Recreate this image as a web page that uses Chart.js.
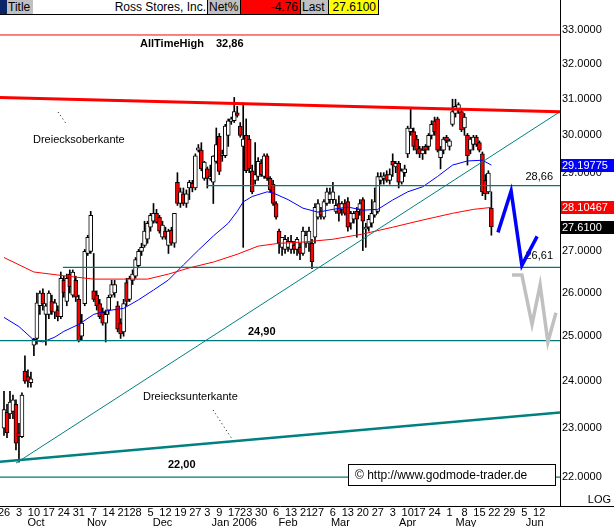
<!DOCTYPE html>
<html>
<head>
<meta charset="utf-8">
<script src="https://cdn.jsdelivr.net/npm/chart.js@4.4.1/dist/chart.umd.min.js"></script>
<style>
  html, body { margin: 0; padding: 0; background: #fff; }
  #wrap { position: relative; width: 614px; height: 527px; overflow: hidden; font-family: "Liberation Sans", Arial, sans-serif; }
  #c { position: absolute; left: 0; top: 0; }
  .hb { position: absolute; top: 0; height: 14px; line-height: 14px; font-size: 12px; color: #000; white-space: nowrap; box-sizing: border-box; }
</style>
</head>
<body>
<div id="wrap">
  <canvas id="c" width="614" height="527"></canvas>
  <div class="hb" style="left:0;width:7px;background:#0a246a"></div>
  <div class="hb" style="left:7px;width:26px;background:#c0c0c0;padding-left:1px">Title</div>
  <div class="hb" style="left:33px;width:174px;background:#fff;text-align:right;padding-right:1px">Ross Stores, Inc.</div>
  <div class="hb" style="left:207px;width:33px;background:#c0c0c0;border-left:1px solid #000;padding-left:1px">Net%</div>
  <div class="hb" style="left:240px;width:60px;background:#ff0000;border-left:1px solid #000;text-align:right;padding-right:2px">-4.76</div>
  <div class="hb" style="left:300px;width:28px;background:#c0c0c0;border-left:1px solid #000;padding-left:1px">Last</div>
  <div class="hb" style="left:328px;width:51px;background:#ffff00;border-left:1px solid #000;border-right:1px solid #000;text-align:right;padding-right:2px">27.6100</div>
  <div style="position:absolute;left:0;top:14px;width:379px;height:1px;background:#000"></div>
</div>
<script>
// daily candles, trading-day index 0 = 26 Sep 2005 ... 163 = 19 May 2006
const opens = [
  23.00, 23.33, 23.30, 23.35, 23.50, 22.90, 22.82, 24.22, 24.10, 23.97,
  24.80, 24.95, 25.70, 26.00, 25.50, 25.50, 25.80, 25.55, 25.60, 25.45,
  26.30, 25.80, 26.45, 25.95, 26.30, 25.85, 25.00, 25.75, 26.95, 27.00,
  26.05, 25.95, 25.75, 25.55, 25.30, 25.60, 25.95, 26.00, 25.70, 25.30,
  25.10, 26.25, 25.85, 26.30, 26.40, 26.65, 27.00, 27.15, 27.30, 27.60,
  27.75, 27.95, 27.85, 27.35, 27.50, 27.15, 27.52, 27.20, 28.75, 28.20,
  28.45, 28.20, 28.60, 28.72, 28.60, 29.60, 29.60, 28.85, 29.10, 28.85,
  28.75, 29.30, 29.97, 29.45, 29.45, 30.00, 30.38, 30.40, 30.62, 30.25,
  29.70, 30.00, 29.90, 29.05, 28.80, 28.90, 29.25, 28.90, 29.45, 28.85,
  28.70, 28.20, 27.50, 27.10, 27.05, 27.10, 27.05, 27.15, 27.05, 27.10,
  26.95, 27.20, 27.20, 27.20, 27.35, 27.85, 28.00, 27.85, 28.20, 28.30,
  28.30, 28.00, 28.20, 28.05, 28.20, 28.25, 27.70, 27.80, 28.00, 28.05,
  28.30, 27.55, 27.60, 27.70, 27.90, 28.00, 28.80, 28.85, 28.95, 28.80,
  29.30, 29.15, 29.25, 28.75, 29.00, 29.50, 30.10, 30.10, 29.90, 29.64,
  29.50, 29.70, 29.70, 30.00, 30.40, 30.45, 29.40, 29.60, 29.95, 29.70,
  30.30, 30.60, 30.72, 30.65, 30.20, 30.00, 29.60, 29.75, 29.95, 29.80,
  29.50, 28.80, 28.50, 28.08
];
const highs = [
  23.78, 23.50, 23.78, 23.70, 23.60, 23.10, 23.75, 24.56, 24.25, 24.20,
  24.95, 26.00, 26.05, 26.10, 25.75, 26.05, 25.95, 25.85, 25.70, 26.50,
  26.40, 26.45, 26.55, 26.55, 26.40, 25.95, 25.50, 27.05, 27.40, 28.00,
  26.95, 26.05, 25.85, 25.65, 25.60, 25.95, 26.30, 26.30, 25.80, 25.40,
  25.85, 26.35, 26.40, 26.55, 26.85, 27.05, 27.20, 27.75, 27.75, 27.95,
  28.20, 28.05, 27.90, 27.75, 27.60, 27.55, 27.60, 27.95, 29.00, 28.60,
  28.60, 28.55, 28.80, 28.80, 29.50, 29.75, 29.80, 29.30, 29.15, 29.20,
  29.45, 30.20, 30.05, 29.60, 30.30, 30.45, 30.50, 31.05, 30.80, 30.35,
  30.90, 30.45, 30.00, 29.20, 29.80, 29.40, 29.35, 29.50, 29.50, 28.90,
  28.80, 28.25, 27.55, 27.35, 27.40, 27.35, 27.40, 27.25, 27.35, 27.20,
  27.60, 27.50, 27.60, 27.30, 28.20, 28.30, 28.10, 28.30, 28.60, 28.60,
  28.75, 28.30, 28.40, 28.25, 28.30, 28.35, 28.00, 28.00, 28.10, 28.30,
  28.35, 27.70, 27.90, 28.30, 28.60, 29.00, 29.00, 29.00, 29.05, 29.10,
  29.50, 29.30, 29.30, 29.10, 29.20, 30.25, 30.75, 30.20, 30.00, 29.70,
  29.70, 29.75, 30.05, 30.40, 30.50, 30.50, 29.70, 29.95, 30.00, 29.90,
  31.00, 31.00, 30.90, 30.70, 30.60, 30.05, 29.95, 30.00, 30.00, 29.85,
  29.55, 28.95, 29.05, 28.50
];
const lows = [
  22.85, 22.80, 23.20, 23.20, 22.55, 22.30, 22.80, 23.95, 23.87, 23.87,
  24.56, 24.82, 25.50, 25.60, 24.80, 25.40, 25.50, 25.40, 25.35, 25.40,
  25.90, 25.70, 26.00, 25.90, 25.80, 24.87, 24.90, 25.70, 26.90, 26.95,
  25.80, 25.60, 25.40, 25.25, 24.87, 25.50, 25.90, 25.90, 25.10, 24.95,
  25.00, 25.70, 25.80, 26.20, 26.35, 26.60, 26.90, 27.10, 27.20, 27.50,
  27.70, 27.70, 27.45, 27.30, 27.30, 26.95, 27.15, 27.10, 28.15, 28.10,
  28.15, 28.10, 28.30, 28.50, 28.55, 29.55, 29.05, 28.80, 28.60, 28.80,
  28.20, 29.25, 28.95, 29.30, 29.40, 29.70, 30.30, 30.35, 30.50, 29.95,
  27.10, 29.00, 29.00, 28.45, 28.70, 28.80, 28.90, 28.85, 28.80, 28.50,
  28.15, 27.80, 26.95, 26.90, 26.95, 27.00, 26.95, 26.95, 26.90, 26.80,
  26.90, 27.10, 27.00, 26.58, 27.20, 27.80, 27.80, 27.80, 28.15, 28.20,
  28.20, 27.95, 27.75, 27.90, 27.90, 27.50, 27.55, 27.70, 27.35, 27.90,
  27.02, 27.10, 27.50, 27.60, 27.85, 27.95, 28.70, 28.70, 28.75, 28.70,
  28.90, 29.00, 28.60, 28.70, 28.90, 29.40, 30.00, 29.60, 29.50, 29.40,
  29.35, 29.50, 29.60, 29.90, 30.00, 29.55, 29.10, 29.50, 29.80, 29.60,
  30.25, 30.50, 30.60, 30.10, 30.00, 29.20, 29.50, 29.60, 29.70, 29.55,
  28.40, 28.30, 28.45, 27.40
];
const closes = [
  23.39, 22.90, 23.55, 23.60, 22.69, 22.82, 23.70, 24.00, 24.00, 24.05,
  24.93, 25.77, 26.00, 25.75, 25.70, 26.00, 25.57, 25.77, 25.45, 26.35,
  26.00, 26.35, 26.15, 26.50, 25.90, 24.90, 25.30, 27.00, 27.35, 27.90,
  25.85, 25.70, 25.45, 25.30, 25.50, 25.90, 26.20, 26.20, 25.16, 25.05,
  25.75, 25.80, 26.35, 26.45, 26.80, 27.00, 27.10, 27.50, 27.70, 27.90,
  27.95, 27.72, 27.50, 27.65, 27.35, 27.50, 27.20, 27.95, 28.20, 28.50,
  28.20, 28.45, 28.75, 28.60, 29.45, 29.66, 29.10, 29.28, 28.85, 28.90,
  29.44, 29.75, 29.03, 29.50, 30.25, 30.40, 30.45, 30.65, 30.55, 30.00,
  29.90, 29.05, 29.10, 28.50, 28.95, 29.30, 28.95, 29.45, 28.85, 28.55,
  28.20, 27.85, 27.20, 27.35, 27.30, 27.25, 27.25, 27.05, 27.30, 26.95,
  27.50, 27.40, 27.50, 26.75, 28.10, 28.20, 27.90, 28.25, 28.50, 28.45,
  28.50, 28.15, 27.95, 28.20, 27.95, 27.60, 27.95, 27.95, 27.80, 28.20,
  27.75, 27.60, 27.80, 27.95, 28.25, 28.90, 28.90, 28.92, 28.80, 28.95,
  29.20, 29.25, 28.75, 29.05, 29.10, 30.20, 30.20, 29.70, 29.60, 29.50,
  29.60, 29.60, 30.00, 30.30, 30.10, 29.60, 29.60, 29.90, 29.85, 29.85,
  30.65, 30.80, 30.85, 30.15, 30.50, 29.45, 29.90, 29.95, 29.75, 29.60,
  28.50, 28.45, 28.99, 27.61
];

// moving averages (blue = short, red = long)
const maBlueIdx = [0, 5, 10, 13, 17, 20, 25, 30, 35, 40, 45, 50, 55, 60, 65, 70, 75, 78, 80, 83, 88, 90, 95, 100, 105, 110, 115, 120, 125, 130, 135, 140, 145, 150, 155, 160, 163];
const maBlueVal = [25.43, 25.22, 24.91, 24.87, 24.98, 25.11, 25.27, 25.50, 25.59, 25.64, 25.84, 26.07, 26.31, 26.67, 27.03, 27.38, 27.70, 28.00, 28.24, 28.38, 28.50, 28.47, 28.30, 28.08, 27.98, 28.05, 28.11, 28.03, 28.05, 28.29, 28.50, 28.63, 28.90, 29.20, 29.31, 29.33, 29.20];
const maRedIdx = [0, 10, 20, 30, 40, 48, 55, 62, 70, 78, 85, 92, 100, 110, 120, 130, 140, 150, 157, 163];
const maRedVal = [26.85, 26.50, 26.41, 26.33, 26.33, 26.33, 26.45, 26.60, 26.74, 26.93, 27.13, 27.20, 27.23, 27.30, 27.43, 27.60, 27.78, 27.95, 28.05, 28.10];

// drawn lines: trend lines, levels, projections
const xMin = -1.34, xMax = 185.95;
const upperTrendIdx = [xMin, xMax], upperTrendVal = [31.05, 30.65];
const lowerTrendIdx = [xMin, xMax], lowerTrendVal = [22.31, 23.33];
const riseTrendIdx = [4.0, xMax], riseTrendVal = [22.28, 30.65];
const athLevel = 32.86;
const levelVals = [28.66, 26.61, 24.90, 22.00];
const levelFrom = [67.9, 19.7, xMin, xMin];
const projBlueIdx = [165.2, 169.6, 173.2, 178.3];
const projBlueVal = [27.47, 28.52, 26.66, 27.37];
const projGrayIdx = [169.9, 173.2, 176.6, 179.3, 181.9, 184.6];
const projGrayVal = [26.43, 26.43, 25.27, 26.19, 24.87, 25.54];

const lastBlue = 29.19775, lastRed = 28.10467, lastClose = 27.61;

// axes
const yTicks = [22, 23, 24, 25, 26, 27, 28, 29, 30, 31, 32, 33];
const weekIdx = [0, 5, 10, 15, 20, 25, 30, 35, 40, 44, 49, 54, 59, 64, 68, 72, 77, 81, 86, 91, 96, 101, 105, 110, 115, 120, 125, 130, 135, 139, 144, 149, 154, 159, 164, 169, 174, 179];
const weekLbl = ['26', '3', '10', '17', '24', '31', '7', '14', '21', '28', '5', '12', '19', '27', '3', '9', '17', '23', '30', '6', '13', '21', '27', '6', '13', '20', '27', '3', '10', '17', '24', '1', '8', '15', '22', '29', '5', '12'];
const monthIdx = [10.7, 31, 53, 77, 95, 112.5, 135, 154.5, 177.5];
const monthLbl = ['Oct', 'Nov', 'Dec', 'Jan 2006', 'Feb', 'Mar', 'Apr', 'May', 'Jun'];

const FONT = '"Liberation Sans", Arial, sans-serif';
const pts = (xs, ys) => xs.map((x, k) => ({ x: x, y: ys[k] }));

function line(data, color, width, order) {
  return { type: 'line', data: data, borderColor: color, borderWidth: width, pointRadius: 0,
           tension: 0, fill: false, order: order, xAxisID: 'x', yAxisID: 'y' };
}

const datasets = [
  { type: 'bar', data: highs.map((h, i) => ({ x: i, y: [lows[i], h] })), backgroundColor: '#000',
    barThickness: 1, grouped: false, borderWidth: 0, order: 9, xAxisID: 'x', yAxisID: 'y' },
  { type: 'bar', data: closes.map((c, i) => ({ x: i, y: [opens[i], c] })),
    backgroundColor: closes.map((c, i) => c < opens[i] ? '#ff0000' : '#ffffff'),
    borderColor: '#000', borderWidth: 1, borderSkipped: false, barThickness: 4, grouped: false,
    order: 8, xAxisID: 'x', yAxisID: 'y' },
  line(pts(maRedIdx, maRedVal), '#ff0000', 1, 4),
  line(pts(maBlueIdx, maBlueVal), '#0000ff', 1, 4),
  line(pts([xMin, xMax], [athLevel, athLevel]), '#ff0000', 1, 3),
  line(pts(upperTrendIdx, upperTrendVal), '#ff0000', 3, 3),
  line(pts(lowerTrendIdx, lowerTrendVal), '#008080', 2.5, 3),
  line(pts(riseTrendIdx, riseTrendVal), '#008080', 1, 3)
];
levelVals.forEach((v, k) => datasets.push(line(pts([levelFrom[k], xMax], [v, v]), '#007878', 1.2, 3)));
datasets.push(line(pts(projGrayIdx, projGrayVal), '#c0c0c0', 3.5, 1));
datasets.push(line(pts(projBlueIdx, projBlueVal), '#0000ff', 3.5, 1));

function txt(ctx, s, x, y, opt) {
  ctx.font = (opt && opt.bold ? 'bold ' : '') + '11px ' + FONT;
  ctx.fillStyle = (opt && opt.color) || '#000';
  ctx.textAlign = (opt && opt.align) || 'left';
  ctx.textBaseline = 'middle';
  ctx.fillText(s, x, y);
}

function dotted(ctx, x1, y1, x2, y2) {
  ctx.save();
  ctx.strokeStyle = '#000';
  ctx.lineWidth = 1;
  ctx.setLineDash([1, 3]);
  ctx.beginPath();
  ctx.moveTo(x1, y1);
  ctx.lineTo(x2, y2);
  ctx.stroke();
  ctx.restore();
}

const notes = {
  id: 'notes',
  beforeDatasetsDraw(chart) {
    const ctx = chart.ctx, y = chart.scales.y;
    ctx.save();
    txt(ctx, 'AllTimeHigh', 140, y.getPixelForValue(athLevel) + 9, { bold: true });
    txt(ctx, '32,86', 216, y.getPixelForValue(athLevel) + 9, { bold: true });
    txt(ctx, 'Dreiecksoberkante', 33, 140);
    dotted(ctx, 58, 112, 67, 125);
    txt(ctx, '28,66', 553, y.getPixelForValue(28.66) - 9, { align: 'right' });
    txt(ctx, '26,61', 553, y.getPixelForValue(26.61) - 11, { align: 'right' });
    txt(ctx, '24,90', 248, y.getPixelForValue(24.90) - 9, { bold: true });
    txt(ctx, 'Dreiecksunterkante', 143, 397);
    dotted(ctx, 213, 410, 234, 442);
    txt(ctx, '22,00', 168, y.getPixelForValue(22.00) - 12, { bold: true });
    ctx.restore();
  },
  afterDraw(chart) {
    const ctx = chart.ctx, y = chart.scales.y, a = chart.chartArea;
    ctx.save();
    // copyright box
    ctx.fillStyle = '#fff';
    ctx.fillRect(348, 464, 208, 22);
    ctx.strokeStyle = '#000';
    ctx.lineWidth = 1;
    ctx.strokeRect(348.5, 464.5, 207, 21);
    ctx.font = '12px ' + FONT;
    ctx.fillStyle = '#000';
    ctx.textAlign = 'left';
    ctx.textBaseline = 'middle';
    ctx.fillText('\u00a9 http://www.godmode-trader.de', 355, 475.5);
    // last values on the price axis
    [[lastBlue, '#0000ff', '29.19775'], [lastRed, '#ff0000', '28.10467'], [lastClose, '#000000', '27.6100']].forEach(b => {
      const py = Math.round(y.getPixelForValue(b[0]));
      ctx.fillStyle = b[1];
      ctx.fillRect(a.right + 1, py - 6, 614 - a.right - 1, 13);
      txt(ctx, b[2], a.right + 2, py + 0.5, { color: '#fff' });
    });
    txt(ctx, 'LOG', 611, 500, { align: 'right' });
    ctx.fillStyle = '#000';
    ctx.fillRect(a.right, Math.round(a.bottom), 614 - a.right, 1);
    ctx.restore();
  }
};

function noPad(s) {
  s.paddingTop = 0;
  s.paddingBottom = 0;
  s.paddingLeft = 0;
  s.paddingRight = 0;
}

new Chart(document.getElementById('c'), {
  type: 'line',
  data: { datasets: datasets },
  plugins: [notes],
  options: {
    responsive: false,
    animation: false,
    events: [],
    layout: { padding: 0 },
    plugins: { legend: { display: false }, tooltip: { enabled: false } },
    scales: {
      x: {
        type: 'linear', position: 'bottom', min: xMin, max: xMax, offset: false, weight: 0,
        grid: { display: false, drawTicks: false },
        border: { display: true, color: '#000', width: 1 },
        afterBuildTicks: s => { s.ticks = weekIdx.map(v => ({ value: v })); },
        afterFit: s => { s.height = 10; noPad(s); },
        ticks: { autoSkip: false, maxRotation: 0, minRotation: 0, padding: 0, color: '#000',
                 font: { size: 11, family: FONT }, callback: (v, k) => weekLbl[k] }
      },
      xm: {
        type: 'linear', position: 'bottom', min: xMin, max: xMax, offset: false, weight: 1,
        grid: { display: false, drawTicks: false },
        border: { display: false },
        afterBuildTicks: s => { s.ticks = monthIdx.map(v => ({ value: v })); },
        afterFit: s => { s.height = 11; noPad(s); },
        ticks: { autoSkip: false, maxRotation: 0, minRotation: 0, padding: 0, color: '#000',
                 font: { size: 11, family: FONT }, callback: (v, k) => monthLbl[k] }
      },
      y: {
        type: 'logarithmic', position: 'right', min: 21.43, max: 33.92,
        grid: { display: false, drawTicks: false },
        border: { display: true, color: '#000', width: 1 },
        afterBuildTicks: s => { s.ticks = yTicks.map(v => ({ value: v })); },
        afterFit: s => { s.width = 54; noPad(s); },
        ticks: { autoSkip: false, padding: 2, color: '#000', font: { size: 11, family: FONT },
                 callback: v => Number(v).toFixed(4) }
      }
    }
  }
});
</script>
</body>
</html>
